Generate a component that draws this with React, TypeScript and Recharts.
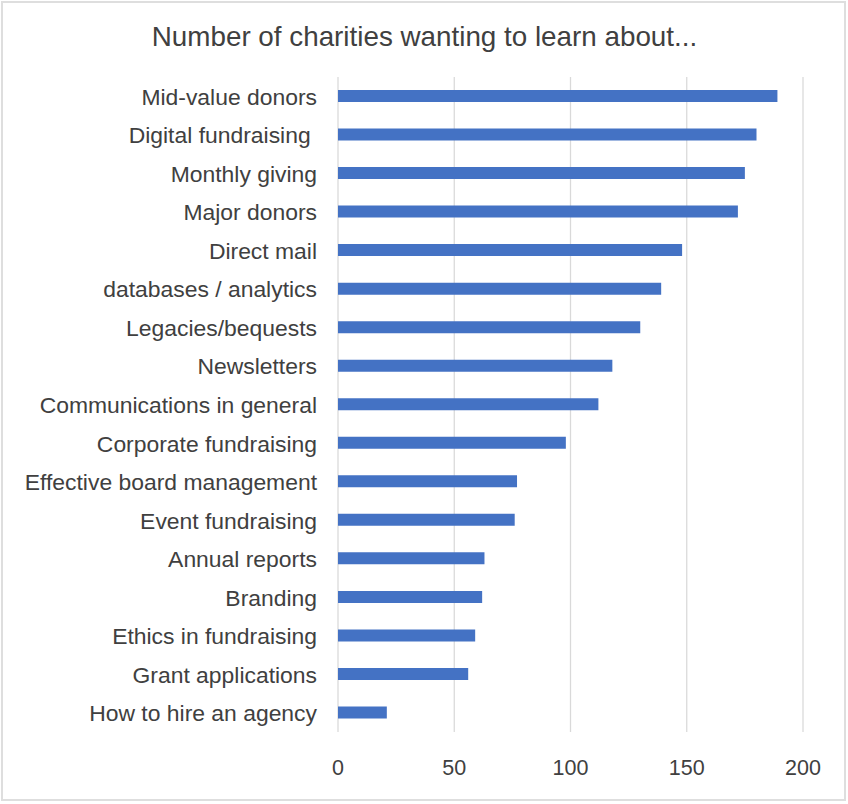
import { BarChart, Bar, XAxis, YAxis, CartesianGrid } from 'recharts';

const topics = [
  'Mid-value donors',
  'Digital fundraising ',
  'Monthly giving',
  'Major donors',
  'Direct mail',
  'databases / analytics',
  'Legacies/bequests',
  'Newsletters',
  'Communications in general',
  'Corporate fundraising',
  'Effective board management',
  'Event fundraising',
  'Annual reports',
  'Branding',
  'Ethics in fundraising',
  'Grant applications',
  'How to hire an agency',
];

const counts = [189, 180, 175, 172, 148, 139, 130, 118, 112, 98, 77, 76, 63, 62, 59, 56, 21];

const xTicks = [0, 50, 100, 150, 200];

const chartData = topics.map((topic, i) => ({ topic, count: counts[i] }));

const FONT = '"Liberation Sans", Arial, sans-serif';
const TEXT = '#404040';

const TopicTick = ({ x, y, payload }: { x?: number; y?: number; payload?: { value: string } }) => (
  <text
    x={(x ?? 0) - 21}
    y={(y ?? 0) + 8.5}
    textAnchor="end"
    xmlSpace="preserve"
    style={{ fontFamily: FONT, fontSize: 22.9, fill: TEXT, whiteSpace: 'pre' }}
  >
    {payload?.value}
  </text>
);

const ValueTick = ({ x, y, payload }: { x?: number; y?: number; payload?: { value: number } }) => (
  <text
    x={x}
    y={(y ?? 0) + 43}
    textAnchor="middle"
    style={{ fontFamily: FONT, fontSize: 21.5, fill: TEXT }}
  >
    {payload?.value}
  </text>
);

const App = () => {
  return (
    <div style={{ position: 'absolute', left: 0, top: 0, width: 848, height: 804, background: '#fff' }}>
      <div
        style={{
          position: 'absolute',
          left: 1,
          top: 1,
          width: 845,
          height: 800,
          boxSizing: 'border-box',
          border: '2px solid #dedede',
        }}
      />
      <svg width={848} height={70} style={{ position: 'absolute', left: 0, top: 0 }}>
        <text
          x={424.5}
          y={46}
          textAnchor="middle"
          style={{ fontFamily: FONT, fontSize: 27.8, fill: TEXT }}
        >
          Number of charities wanting to learn about...
        </text>
      </svg>
      <div style={{ position: 'absolute', left: 0, top: 0 }}>
        <BarChart
          width={848}
          height={804}
          data={chartData}
          layout="vertical"
          margin={{ top: 77, right: 45, bottom: 42, left: 0 }}
        >
          <CartesianGrid horizontal={false} stroke="#d9d9d9" strokeWidth={1.25} />
          <XAxis
            type="number"
            domain={[0, 200]}
            ticks={xTicks}
            height={30}
            axisLine={false}
            tickLine={false}
            tickSize={0}
            tickMargin={0}
            tick={<ValueTick />}
            interval={0}
          />
          <YAxis
            type="category"
            dataKey="topic"
            width={338}
            axisLine={false}
            tickLine={false}
            tickSize={0}
            tickMargin={0}
            tick={<TopicTick />}
            interval={0}
          />
          <Bar dataKey="count" fill="#4472C4" barSize={12} isAnimationActive={false} />
        </BarChart>
      </div>
    </div>
  );
};

export default App;
